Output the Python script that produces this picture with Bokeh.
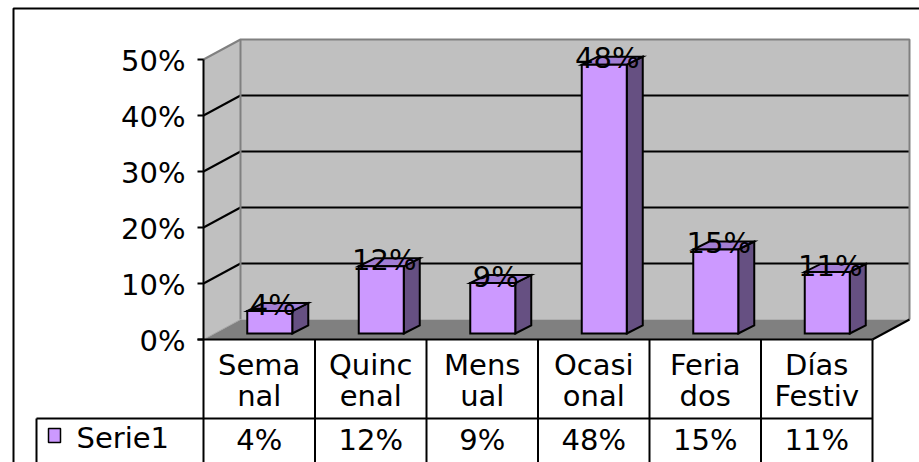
from bokeh.plotting import figure
from bokeh.models import Range1d
from bokeh.embed import file_html
from bokeh.resources import INLINE
from bokeh.core.properties import value

# ---- data -------------------------------------------------------------
cat_line1 = ["Sema", "Quinc", "Mens", "Ocasi", "Feria", "Días"]
cat_line2 = ["nal", "enal", "ual", "onal", "dos", "Festiv"]
pct = [4, 12, 9, 48, 15, 11]
y_ticks = [0, 10, 20, 30, 40, 50]
y_tick_labels = ["0%", "10%", "20%", "30%", "40%", "50%"]
series_name = "Serie1"

# ---- layout (one category = 111.5 px, 1 % = 5.6 px) ------------------
W, H = 919, 462
CAT_PX, PCT_PX = 111.5, 5.6
ORIGIN_X, ORIGIN_Y = 203, 339          # where category 0 / 0 % sits


def fx(px):
    return (px - ORIGIN_X) / CAT_PX


def fy(py):
    return (ORIGIN_Y - py) / PCT_PX


n = len(pct)
YMAX = y_ticks[-1]
DX, DY = 37 / CAT_PX, 20 / PCT_PX      # depth of the 3-D box
BW = 45 / CAT_PX                       # bar width
BDX, BDY = 16 / CAT_PX, 8 / PCT_PX     # bar depth
OX, OY = (DX - BDX) / 2, (DY - BDY) / 2

FONT = value("DejaVu Sans")
FSIZE = "29px"
FRONT, TOP, SIDE = "#CC99FF", "#A27ED4", "#665082"
WALL, FLOOR, EDGE = "#C0C0C0", "#808080", "#808080"

p = figure(width=W, height=H,
           x_range=Range1d(fx(0), fx(W)), y_range=Range1d(fy(H), fy(0)),
           x_axis_location=None, y_axis_location=None,
           toolbar_location=None, output_backend="svg", min_border=0)
p.grid.visible = False
p.outline_line_color = None
p.background_fill_color = "white"
p.border_fill_color = "white"

# ---- walls and floor ---------------------------------------------------
p.patch([0, DX, DX, 0], [0, DY, YMAX + DY, YMAX],
        fill_color=WALL, line_color=None)
p.patch([DX, n + DX, n + DX, DX], [DY, DY, YMAX + DY, YMAX + DY],
        fill_color=WALL, line_color=None)

# gridlines on the side wall and the back wall
grid = y_ticks[1:-1]
p.segment(x0=[0] * len(grid), y0=grid, x1=[DX] * len(grid),
          y1=[g + DY for g in grid], line_color="black", line_width=2)
p.segment(x0=[DX] * len(grid), y0=[g + DY for g in grid],
          x1=[n + DX] * len(grid), y1=[g + DY for g in grid],
          line_color="black", line_width=2)

# wall edges
p.line([0, DX, n + DX, n + DX], [YMAX, YMAX + DY, YMAX + DY, DY],
       line_color=EDGE, line_width=2)
p.line([DX, DX], [DY, YMAX + DY], line_color=EDGE, line_width=2)

p.patch([0, n, n + DX, DX], [0, 0, DY, DY],
        fill_color=FLOOR, line_color=None)
p.line([0, DX], [0, DY], line_color="#A8A8A8", line_width=1)
p.line([n, n + DX], [0, DY], line_color="black", line_width=2)

# ---- bars ------------------------------------------------------------
fx_l, fx_r, fy_b, fy_t = [], [], [], []
for i, v in enumerate(pct):
    xl = i + 0.5 - BW / 2 + OX
    fx_l.append(xl)
    fx_r.append(xl + BW)
    fy_b.append(OY)
    fy_t.append(OY + v)

front_xs = [[l, r, r, l] for l, r in zip(fx_l, fx_r)]
front_ys = [[b, b, t, t] for b, t in zip(fy_b, fy_t)]
top_xs = [[l, r, r + BDX, l + BDX] for l, r in zip(fx_l, fx_r)]
top_ys = [[t, t, t + BDY, t + BDY] for t in fy_t]
side_xs = [[r, r + BDX, r + BDX, r] for r in fx_r]
side_ys = [[b, b + BDY, t + BDY, t] for b, t in zip(fy_b, fy_t)]

bar_line = dict(line_color="black", line_width=2, line_join="miter")
p.patches(side_xs, side_ys, fill_color=SIDE, **bar_line)
p.patches(top_xs, top_ys, fill_color=TOP, **bar_line)
p.patches(front_xs, front_ys, fill_color=FRONT, **bar_line)

# value labels sitting on each bar's top
p.text(x=[l + BW / 2 + 3 / CAT_PX for l in fx_l],
       y=[t + BDY / 2 + 0.4 for t in fy_t],
       text=[f"{v}%" for v in pct],
       text_font=FONT, text_font_size=FSIZE, text_color="black",
       text_align="center", text_baseline="middle")

# ---- value axis ------------------------------------------------------
p.line([0, 0], [0, YMAX], line_color="black", line_width=2)
p.segment(x0=[fx(197)] * len(y_ticks), y0=y_ticks, x1=[0] * len(y_ticks),
          y1=y_ticks, line_color="black", line_width=2)
p.text(x=[fx(185)] * len(y_ticks), y=[t - 0.2 for t in y_ticks],
       text=y_tick_labels, text_font=FONT, text_font_size=FSIZE,
       text_color="black", text_align="right", text_baseline="middle")

# ---- data table ------------------------------------------------------
ROW = fy(418)
BOTTOM = fy(H)
LEG_X = fx(36)
p.line([fx(197), n], [0, 0], line_color="black", line_width=2)
p.segment(x0=list(range(n + 1)), y0=[0] * (n + 1),
          x1=list(range(n + 1)), y1=[BOTTOM] * (n + 1),
          line_color="black", line_width=2)
p.line([LEG_X, n], [ROW, ROW], line_color="black", line_width=2)
p.line([LEG_X, LEG_X], [ROW, BOTTOM], line_color="black", line_width=2)

centers = [i + 0.5 for i in range(n)]
p.text(x=centers, y=[fy(364)] * n, text=cat_line1, text_font=FONT,
       text_font_size=FSIZE, text_color="black", text_align="center",
       text_baseline="middle")
p.text(x=centers, y=[fy(395)] * n, text=cat_line2, text_font=FONT,
       text_font_size=FSIZE, text_color="black", text_align="center",
       text_baseline="middle")
p.text(x=centers, y=[fy(439)] * n, text=[f"{v}%" for v in pct],
       text_font=FONT, text_font_size=FSIZE, text_color="black",
       text_align="center", text_baseline="middle")

# legend key inside the table
p.rect(x=[fx(54)], y=[fy(435)], width=12 / CAT_PX, height=14 / PCT_PX,
       fill_color=FRONT, line_color="black", line_width=1.5)
p.text(x=[fx(76)], y=[fy(437)], text=[series_name], text_font=FONT,
       text_font_size=FSIZE, text_color="black", text_align="left",
       text_baseline="middle")

# ---- chart border ----------------------------------------------------
p.line([fx(13), fx(13), fx(W)], [fy(H), fy(8), fy(8)],
       line_color="black", line_width=2)

open("out.html", "w").write(file_html(p, INLINE))
